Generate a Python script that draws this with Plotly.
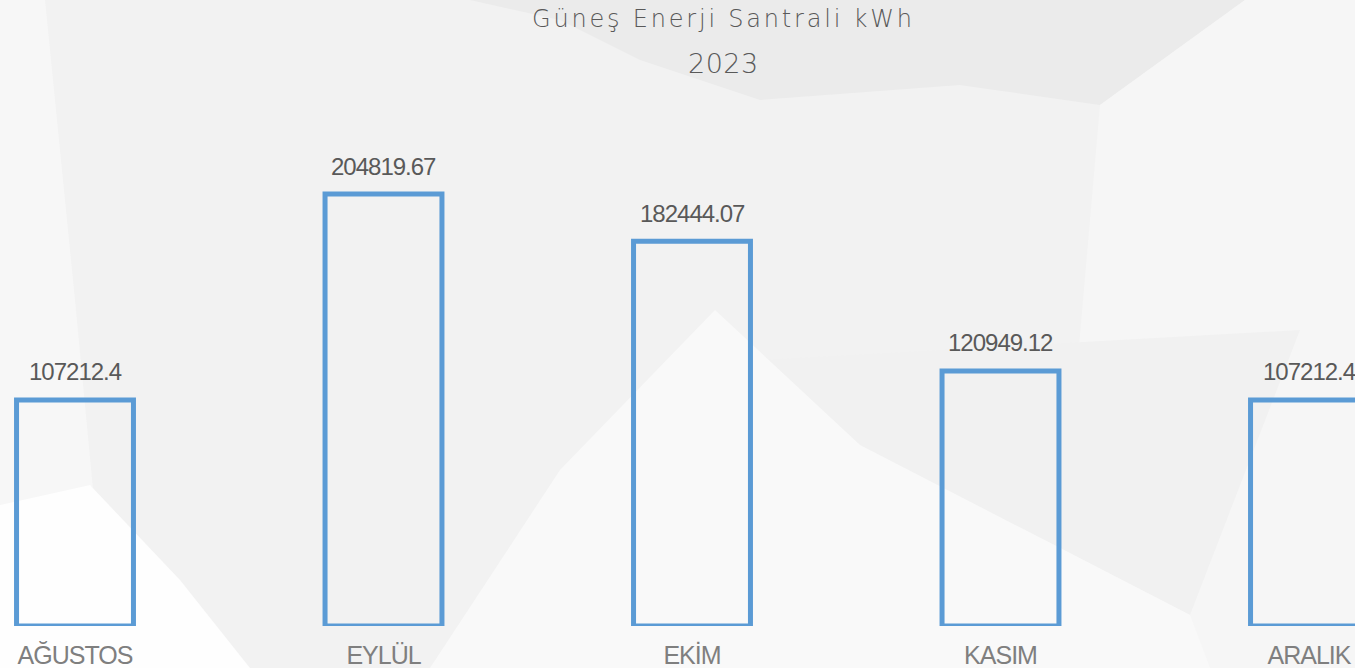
import plotly.graph_objects as go

months = ['AĞUSTOS', 'EYLÜL', 'EKİM', 'KASIM', 'ARALIK']
values = [107212.4, 204819.67, 182444.07, 120949.12, 107212.4]
value_labels = ['107212.4', '204819.67', '182444.07', '120949.12', '107212.4']
title_line1 = 'Güneş Enerji Santrali kWh'
title_line2 = '2023'

W, H = 1355, 668
M_L, M_R, M_T, M_B = 0, 0, 61, 42
PH = H - M_T - M_B


def pt(px, py):
    return px / W, (H - M_B - py) / PH


def poly(points, color):
    coords = [pt(x, y) for x, y in points]
    path = 'M ' + ' L '.join(f'{x:.5f},{y:.5f}' for x, y in coords) + ' Z'
    return dict(type='path', xref='paper', yref='paper', path=path,
                fillcolor=color, line=dict(width=0), layer='below')


def spaced(text, px):
    return f'<span style="letter-spacing:{px}px">{text}</span>'


bg_shapes = [
    poly([(0, 0), (45, 0), (75, 300), (110, 668), (0, 668)], '#f7f7f7'),
    poly([(470, 0), (1245, 0), (1100, 105), (960, 85), (760, 100), (640, 60), (560, 20)], '#ebebeb'),
    poly([(1245, 0), (1355, 0), (1355, 668), (1010, 668), (1070, 450), (1100, 105)], '#f6f6f6'),
    poly([(760, 360), (1300, 330), (1190, 615), (860, 445)], '#f1f1f1'),
    poly([(715, 310), (860, 445), (1190, 615), (1210, 668), (430, 668), (560, 470)], '#f9f9f9'),
    poly([(0, 505), (90, 485), (180, 580), (250, 668), (0, 668)], '#fefefe'),
]

fig = go.Figure()
fig.add_trace(go.Bar(
    x=months, y=values,
    width=0.379,
    marker=dict(color='rgba(0,0,0,0)', line=dict(color='#5b9bd5', width=5)),
    hoverinfo='x+y',
))

label_font = 'Liberation Sans, Arial, sans-serif'
annotations = []
for m, v, t in zip(months, values, value_labels):
    annotations.append(dict(x=m, y=v, xref='x', yref='y', text=spaced(t, -1), showarrow=False,
                            yanchor='middle', yshift=28,
                            font=dict(family=label_font, size=24, color='#595959')))

x1, y1 = pt(723, 19)
x2, y2 = pt(723, 63)
annotations.append(dict(x=x1, y=y1, xref='paper', yref='paper', text=spaced(title_line1, 2.8),
                        showarrow=False, xanchor='center', yanchor='middle',
                        font=dict(family='DejaVu Sans, sans-serif', size=24, color='#595959', weight=200)))
annotations.append(dict(x=x2, y=y2, xref='paper', yref='paper', text=spaced(title_line2, 0.5),
                        showarrow=False, xanchor='center', yanchor='middle',
                        font=dict(family='DejaVu Sans, sans-serif', size=27, color='#595959', weight=200)))

x_lo = -75 / 308.5
x_hi = (W - 75) / 308.5

fig.update_layout(
    width=W, height=H,
    margin=dict(l=M_L, r=M_R, t=M_T, b=M_B, pad=0),
    paper_bgcolor='#f2f2f2',
    plot_bgcolor='rgba(0,0,0,0)',
    showlegend=False,
    shapes=bg_shapes,
    annotations=annotations,
    xaxis=dict(range=[x_lo, x_hi], showgrid=False, zeroline=False, showline=False,
               tickmode='array', tickvals=months, ticktext=[spaced(m, -1) for m in months],
               ticks='', tickfont=dict(family=label_font, size=25, color='#7f7f7f'),
               ticklabelstandoff=12),
    yaxis=dict(range=[0, 267900], visible=False, showgrid=False, zeroline=False),
)

fig.write_html('out.html',
               config={'displayModeBar': False},
               post_script="document.body.style.margin='0';document.body.style.padding='0';"
                           "document.body.style.overflow='hidden';")
